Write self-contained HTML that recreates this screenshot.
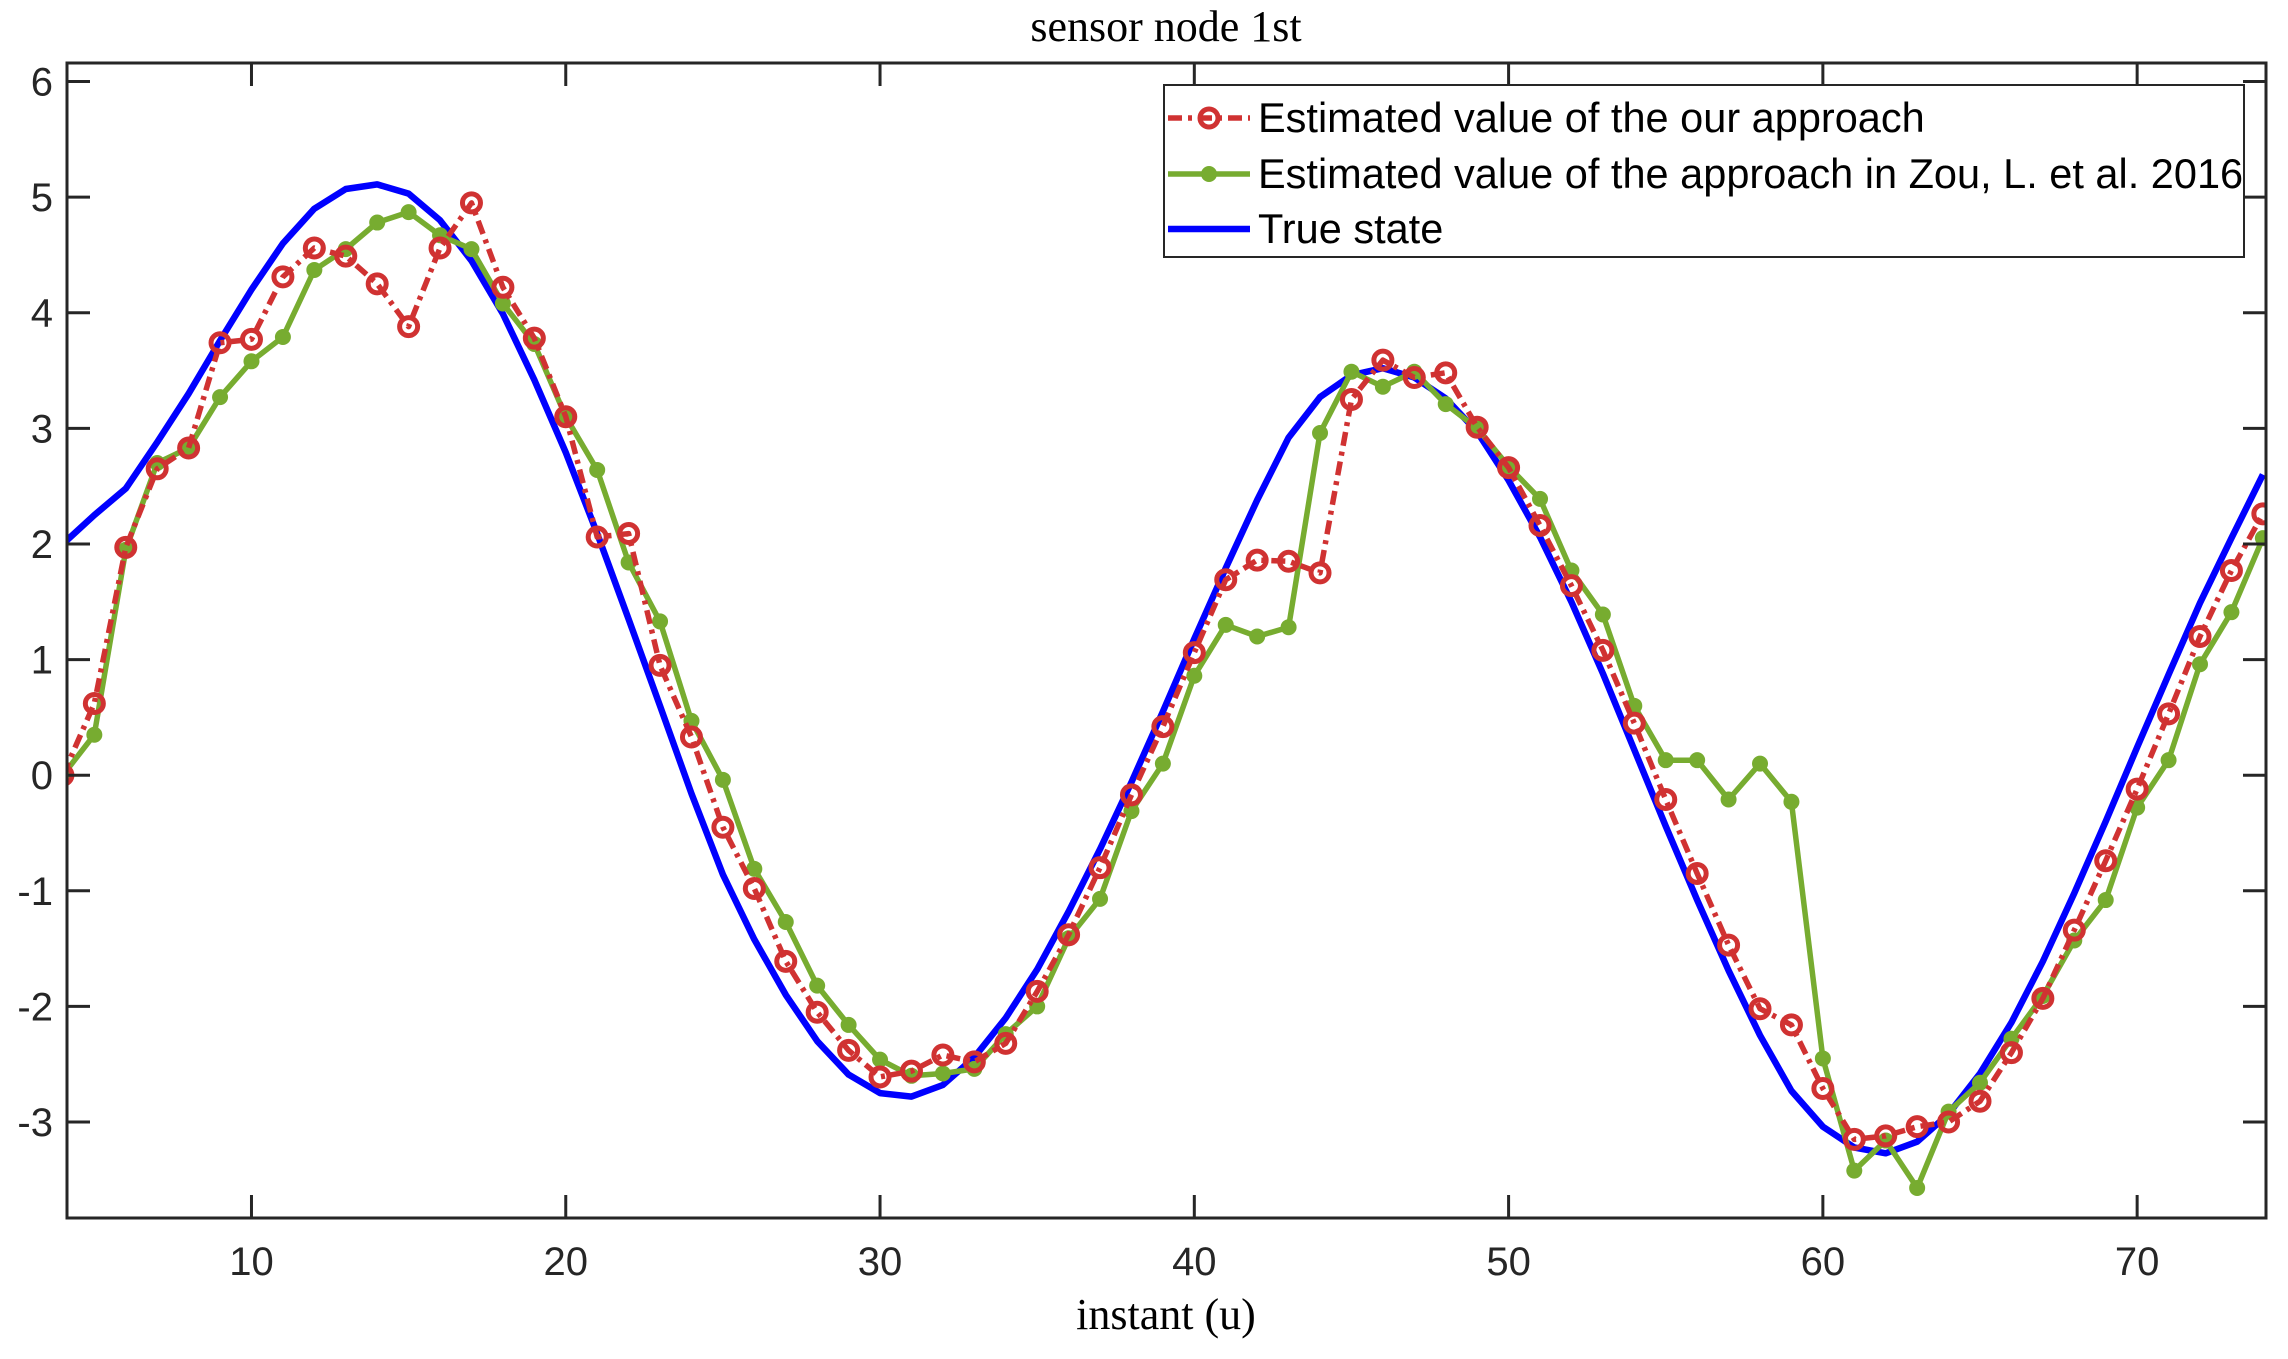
<!DOCTYPE html>
<html><head><meta charset="utf-8"><style>
html,body{margin:0;padding:0;background:#fff}
svg{display:block}
.tk{font-family:"Liberation Sans",sans-serif;font-size:40px;fill:#262626}
.lg{font-family:"Liberation Sans",sans-serif;font-size:41.5px;fill:#000}
.ser{font-family:"Liberation Serif",serif;font-size:44px;fill:#000}
</style></head><body>
<svg id="chart" width="2288" height="1359" viewBox="0 0 2288 1359" xmlns="http://www.w3.org/2000/svg">
<text class="ser" x="1166" y="41" text-anchor="middle">sensor node 1st</text>
<text class="ser" x="1166" y="1329" text-anchor="middle">instant (u)</text>
<defs><clipPath id="clip"><rect x="67" y="63" width="2199" height="1155"/></clipPath></defs>
<g id="series" clip-path="url(#clip)"></g>
<g id="axes"></g>
<g id="legend">
<rect x="1164" y="85" width="1080" height="172" fill="#fff" stroke="#262626" stroke-width="2"/>
<g>
<line x1="1168" y1="118" x2="1250" y2="118" stroke="#d03232" stroke-width="5.5" stroke-dasharray="14,6,4,6"/>
<circle cx="1209" cy="118" r="9" fill="none" stroke="#d03232" stroke-width="5"/>
<text class="lg" x="1258" y="132">Estimated value of the our approach</text></g>
<g>
<line x1="1168" y1="174" x2="1250" y2="174" stroke="#77ac30" stroke-width="5.5"/>
<circle cx="1209" cy="174" r="8" fill="#77ac30"/>
<text class="lg" x="1258" y="188">Estimated value of the approach in Zou, L. et al. 2016</text></g>
<g>
<line x1="1168" y1="229" x2="1250" y2="229" stroke="#0000ff" stroke-width="6.5"/>
<text class="lg" x="1258" y="243">True state</text></g>
</g>
</svg>
<script>
const xs=[4,5,6,7,8,9,10,11,12,13,14,15,16,17,18,19,20,21,22,23,24,25,26,27,28,29,30,31,32,33,34,35,36,37,38,39,40,41,42,43,44,45,46,47,48,49,50,51,52,53,54,55,56,57,58,59,60,61,62,63,64,65,66,67,68,69,70,71,72,73,74];
const ourApproach=[0.0,0.62,1.97,2.65,2.83,3.74,3.77,4.31,4.56,4.49,4.25,3.88,4.56,4.95,4.22,3.78,3.10,2.06,2.09,0.95,0.33,-0.45,-0.98,-1.61,-2.05,-2.38,-2.61,-2.56,-2.42,-2.48,-2.32,-1.87,-1.38,-0.80,-0.17,0.42,1.06,1.69,1.86,1.85,1.75,3.25,3.59,3.44,3.48,3.01,2.66,2.16,1.64,1.08,0.45,-0.21,-0.85,-1.47,-2.02,-2.16,-2.71,-3.15,-3.12,-3.04,-3.00,-2.82,-2.40,-1.93,-1.34,-0.74,-0.12,0.53,1.20,1.77,2.26];
const zouApproach=[0.0,0.35,1.95,2.70,2.83,3.27,3.58,3.79,4.37,4.55,4.78,4.87,4.67,4.55,4.08,3.73,3.10,2.64,1.84,1.33,0.47,-0.04,-0.81,-1.27,-1.82,-2.16,-2.46,-2.60,-2.58,-2.54,-2.24,-2.00,-1.41,-1.07,-0.31,0.10,0.86,1.30,1.20,1.28,2.96,3.49,3.36,3.49,3.21,3.00,2.67,2.39,1.77,1.39,0.60,0.13,0.13,-0.21,0.10,-0.23,-2.45,-3.42,-3.16,-3.57,-2.91,-2.66,-2.28,-1.91,-1.43,-1.08,-0.28,0.13,0.96,1.41,2.05];
const trueState=[2.0,2.25,2.48,2.88,3.30,3.76,4.20,4.60,4.90,5.07,5.11,5.03,4.80,4.45,3.99,3.42,2.79,2.09,1.35,0.60,-0.16,-0.86,-1.42,-1.90,-2.30,-2.59,-2.75,-2.78,-2.68,-2.44,-2.10,-1.68,-1.18,-0.64,-0.06,0.55,1.18,1.79,2.38,2.92,3.27,3.46,3.52,3.44,3.26,2.97,2.55,2.06,1.50,0.88,0.22,-0.44,-1.08,-1.69,-2.25,-2.73,-3.04,-3.22,-3.27,-3.17,-2.93,-2.58,-2.14,-1.61,-1.02,-0.40,0.24,0.87,1.49,2.05,2.60];
const xTicks=[10,20,30,40,50,60,70];
const yTicks=[-3,-2,-1,0,1,2,3,4,5,6];
const L=67,R=2266,T=63,B=1218,XMIN=4.13,XMAX=74.1,YMIN=-3.83,YMAX=6.16;
const sx=v=>L+(v-XMIN)/(XMAX-XMIN)*(R-L);
const sy=v=>B-(v-YMIN)/(YMAX-YMIN)*(B-T);
const NS='http://www.w3.org/2000/svg';
function mk(tag,attrs,parent){const e=document.createElementNS(NS,tag);for(const k in attrs)e.setAttribute(k,attrs[k]);parent.appendChild(e);return e;}
const S=document.getElementById('series'),A=document.getElementById('axes');
function pts(ys){return xs.map((x,i)=>sx(x).toFixed(1)+','+sy(ys[i]).toFixed(1)).join(' ');}
let pl=mk('polyline',{points:pts(trueState),fill:'none',stroke:'#0000ff','stroke-width':6.5,'stroke-linejoin':'round'},S);


pl=mk('polyline',{points:pts(zouApproach),fill:'none',stroke:'#77ac30','stroke-width':5.5,'stroke-linejoin':'round'},S);


xs.forEach((x,i)=>{const c=mk('circle',{cx:sx(x),cy:sy(zouApproach[i]),r:8,fill:'#77ac30'},S);

});
pl=mk('polyline',{points:pts(ourApproach),fill:'none',stroke:'#d03232','stroke-width':5.5,'stroke-dasharray':'14,6,4,6','stroke-linejoin':'round'},S);


xs.forEach((x,i)=>{const c=mk('circle',{cx:sx(x),cy:sy(ourApproach[i]),r:9,fill:'none',stroke:'#d03232','stroke-width':5},S);

});
const box=mk('rect',{x:L,y:T,width:R-L,height:B-T,fill:'none',stroke:'#262626','stroke-width':3},A);


xTicks.forEach(t=>{const x=sx(t);
mk('line',{x1:x,y1:B,x2:x,y2:B-23,stroke:'#262626','stroke-width':3},A);
mk('line',{x1:x,y1:T,x2:x,y2:T+23,stroke:'#262626','stroke-width':3},A);
const tx=mk('text',{x:x,y:B+57,'text-anchor':'middle',class:'tk'},A);tx.textContent=t;

});
yTicks.forEach(t=>{const y=sy(t);
mk('line',{x1:L,y1:y,x2:L+23,y2:y,stroke:'#262626','stroke-width':3},A);
mk('line',{x1:R,y1:y,x2:R-23,y2:y,stroke:'#262626','stroke-width':3},A);
const tx=mk('text',{x:L-14,y:y+14,'text-anchor':'end',class:'tk'},A);tx.textContent=t;

});
</script>
</body></html>
